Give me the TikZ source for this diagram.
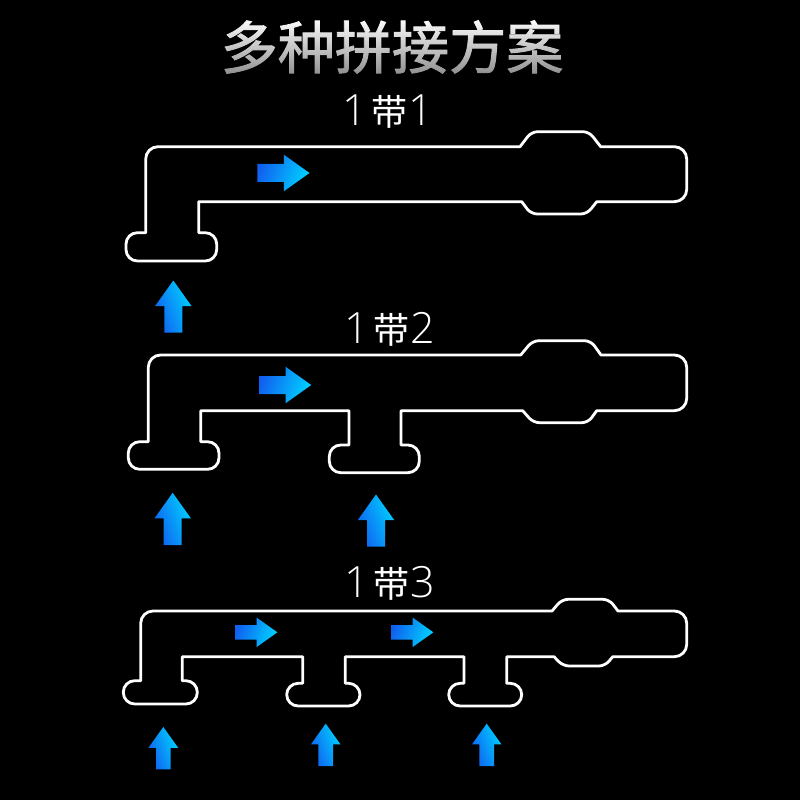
\documentclass[tikz,border=0pt]{standalone}
\usepackage{fontspec}
\setmainfont{Liberation Sans}
\newfontfamily\cjk{Noto Sans CJK SC}
\newfontfamily\cjkmid[FakeBold=1.6]{Noto Sans CJK SC}
\newfontfamily\digits{Open Sans Light}
\usetikzlibrary{fadings}
\definecolor{tipblue}{HTML}{00D2FF}
\definecolor{tailblue}{HTML}{1060F0}
\tikzfading[name=titlefade,top color=transparent!100,bottom color=transparent!55]
\tikzset{
  outline/.style={draw=white,line width=1.6pt,line join=round},
  planlabel/.style={text=white,font=\cjk\fontsize{20.5}{24}\selectfont,inner sep=0pt},
}
\newcommand{\flowshape}{(0,-1)--(0,1)--(2.95,1)--(2.95,2.03)--(5.8,0)--(2.95,-2.03)--(2.95,-1)--cycle}
\newcommand{\rightarrowmark}[3]{%
  \shade[shift={(#1,#2)},scale=#3,left color=tailblue,right color=tipblue,shading angle=70] \flowshape;%
}
\newcommand{\uparrowmark}[3]{%
  \shade[shift={(#1,#2)},rotate=90,scale=#3,left color=tailblue,right color=tipblue,shading angle=110] \flowshape;%
}
% stem right, stem left, foot right, foot left, foot top, foot bottom, floor of the bar
\newcommand{\footpath}[7]{%
  (#1,#7)--(#1,#5)[rounded corners=6.5pt]--(#3,#5)--(#3,#6)--(#4,#6)--(#4,#5)[sharp corners]--(#2,#5)--(#2,#7)%
}
\newcommand{\plantext}[1]{{\digits\fontsize{24.5}{30}\selectfont 1}\hspace{2.5pt}带\hspace{0.5pt}{\digits\fontsize{24.5}{30}\selectfont #1}}
\begin{document}
\begin{tikzpicture}[x=0.02cm,y=-0.02cm]
  \fill[black] (0,0) rectangle (800,800);
  \useasboundingbox (0,0) rectangle (800,800);
  \node[text=white,font=\cjkmid\fontsize{32.5}{40}\selectfont,inner sep=0pt] (title) at (392,47) {多种拼接方案};
  \fill[black,path fading=titlefade] (200,18) rectangle (580,76);
  \node[planlabel] (plan1) at (388,112) {\plantext{1}};
  \node[planlabel] (plan2) at (390,329) {\plantext{2}};
  \node[planlabel] (plan3) at (390,583) {\plantext{3}};

  % one stem
  \draw[outline] (300,146.7)--(520,146.7)[rounded corners=3.5pt]--(531.5,131.7)--(589,131.7)[sharp corners]--(600.7,146.7)[rounded corners=7pt]
    --(686.7,146.7)--(686.7,201.7)[sharp corners]--(596.7,201.7)[rounded corners=3.5pt]--(587,214)--(531,214)[sharp corners]--(521.7,201.7)
    --\footpath{198.7}{145.7}{216.7}{126}{232.7}{261}{201.7}[rounded corners=7pt]--(145.7,146.7)[sharp corners]--cycle;
  \rightarrowmark{257.3}{173}{9}
  \uparrowmark{173.3}{332.7}{9}

  % two stems
  \draw[outline] (300,355)--(520.7,355)[rounded corners=3.5pt]--(532.7,340.7)--(590.7,340.7)[sharp corners]--(601,355)[rounded corners=7pt]
    --(686.7,355)--(686.7,410.7)[sharp corners]--(596.7,410.7)[rounded corners=3.5pt]--(588,422.7)--(533.3,422.7)[sharp corners]--(522.7,410.7)
    --\footpath{401}{349}{419.3}{329.3}{445}{472.7}{410.7}
    --\footpath{200.7}{148.3}{219}{128.3}{441.7}{469.3}{410.7}[rounded corners=7pt]--(148.3,355)[sharp corners]--cycle;
  \rightarrowmark{259}{385}{9}
  \uparrowmark{172.7}{545}{9}
  \uparrowmark{376}{546.7}{9}

  % three stems
  \draw[outline] (300,611)--(552,611)[rounded corners=3.5pt]--(562,599.3)--(609,599.3)[sharp corners]--(618,611)[rounded corners=7pt]
    --(686.7,611)--(686.7,656.7)[sharp corners]--(612.7,656.7)[rounded corners=3.5pt]--(605,666)--(563,666)[sharp corners]--(554,656.7)
    --\footpath{506.7}{464}{521.7}{448.7}{683.3}{706}{656.7}
    --\footpath{345.3}{302.7}{360}{286.7}{683.3}{706}{656.7}
    --\footpath{182.3}{140.7}{197.3}{123.3}{680.7}{704}{656.7}[rounded corners=7pt]--(140.7,611)[sharp corners]--cycle;
  \rightarrowmark{235}{632.3}{7.3}
  \rightarrowmark{391}{632.3}{7.3}
  \uparrowmark{163.3}{769.3}{7.3}
  \uparrowmark{325.7}{766}{7.3}
  \uparrowmark{486.7}{766}{7.3}
\end{tikzpicture}
\end{document}
